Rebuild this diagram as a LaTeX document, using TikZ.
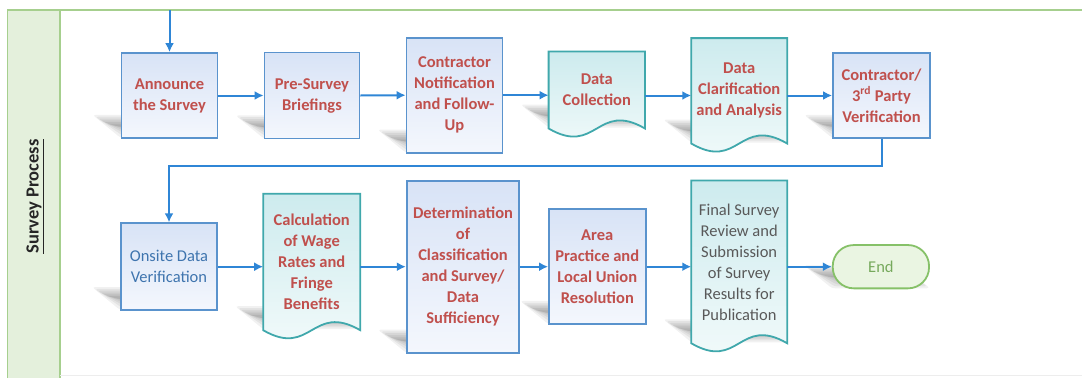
\documentclass[tikz,border=0pt]{standalone}
\usepackage{fontspec}
\setmainfont{Carlito}
\usetikzlibrary{arrows.meta,calc}
\definecolor{lanefill}{HTML}{E4F0DC}
\definecolor{laneline}{HTML}{A6CF8E}
\definecolor{rectborder}{HTML}{5A93CD}
\definecolor{recttop}{HTML}{D8E3F6}
\definecolor{rectbot}{HTML}{F4F7FD}
\definecolor{docborder}{HTML}{40A8AC}
\definecolor{doctop}{HTML}{CDEBEE}
\definecolor{docbot}{HTML}{F4FBFB}
\definecolor{flowblue}{HTML}{2F86D6}
\definecolor{redtext}{HTML}{C0504D}
\definecolor{bluetext}{HTML}{3E74AE}
\definecolor{graytext}{HTML}{595959}
\definecolor{endborder}{HTML}{86C168}
\definecolor{endfill}{HTML}{EAF5E2}
\definecolor{endtext}{HTML}{76A95C}
\pgfdeclarelayer{lanelayer}
\pgfdeclarelayer{shadowlayer}
\pgfdeclarelayer{shapelayer}
\pgfsetlayers{lanelayer,shadowlayer,shapelayer,main}
\newcommand\boxshade[1]{%
  \begin{pgfonlayer}{shadowlayer}
    \foreach \k in {0,...,6}{
    \fill[black, opacity=0.055, rounded corners=3pt]
      ($(#1.south west)+(-28+2.6*\k,-24+1.8*\k)$) -- ($(#1.south east)+(-28-2.6*\k,-24+1.8*\k)$) --
      ($(#1.south east)+(-2.6*\k,-1-1.8*\k)$) -- ($(#1.south west)+(2.6*\k,-1-1.8*\k)$) -- cycle;}
  \end{pgfonlayer}}
\newcommand\docoutline[1]{%
  \begin{pgfonlayer}{shapelayer}
    \draw[docline] (#1.north west) -- (#1.north east) -- (#1.south east)
      .. controls ($(#1.south)+(0,-28)$) and ($(#1.south)+(0,28)$) .. (#1.south west) -- cycle;
  \end{pgfonlayer}}
\begin{document}
\begin{tikzpicture}[x=1pt,y=-1pt,
  txt/.style={font=\fontsize{16.5}{21}\selectfont\bfseries, text=redtext, align=center, inner sep=0pt},
  procbox/.style={txt, draw=rectborder, line width=1.8pt, top color=recttop, bottom color=rectbot},
  docbox/.style={txt},
  docline/.style={draw=docborder, line width=1.8pt, top color=doctop, bottom color=docbot},
  flow/.style={draw=flowblue, line width=2pt, -{Latex[length=9pt,width=9pt]}},
  termbox/.style={draw=endborder, line width=1.8pt, fill=endfill, rounded corners=21pt,
    text=endtext, font=\fontsize{16.5}{21}\selectfont, align=center}]
\useasboundingbox (0,0) rectangle (1082,378);
% lane
\begin{pgfonlayer}{lanelayer}
\fill[white] (0,0) rectangle (1082,378);
\fill[lanefill] (7.6,10) rectangle (60,378);
\draw[laneline, line width=1.2pt] (7.6,378) -- (7.6,10) -- (1082,10);
\draw[laneline, line width=1.2pt] (60,10) -- (60,378);
\draw[black!7, line width=1pt] (60,375) -- (1082,375);
\end{pgfonlayer}
\node[rotate=90, font=\fontsize{18.5}{21}\selectfont\bfseries, text=black!85] (lanelabel) at (35,196.5) {\underline{Survey Process}};
% row 1
\node[procbox, minimum width=96pt, minimum height=85pt] (ann) at (169.5,95.5) {Announce\\the Survey};
\node[procbox, minimum width=95pt, minimum height=86pt] (pre) at (312,95.5) {Pre-Survey\\Briefings};
\node[procbox, minimum width=96pt, minimum height=115pt] (cn) at (454.5,95.2) {Contractor\\Notification\\and Follow-\\Up};
\node[docbox, minimum width=96pt, minimum height=76.6pt] (dc) at (596.8,90) {Data\\Collection};
\node[docbox, minimum width=95.5pt, minimum height=105pt] (dca) at (739.2,90.8) {Data\\Clarification\\and Analysis};
\node[procbox, minimum width=97pt, minimum height=85pt] (c3) at (881.5,95.5) {Contractor/\\3\textsuperscript{rd} Party\\Verification};
% row 2
\node[procbox, minimum width=96pt, minimum height=87pt, text=bluetext, font=\fontsize{16.5}{21}\selectfont] (ods) at (169,266.7) {Onsite Data\\Verification};
\node[docbox, minimum width=96.7pt, minimum height=136pt] (wage) at (311.7,262) {Calculation\\of Wage\\Rates and\\Fringe\\Benefits};
\node[procbox, minimum width=112.6pt, minimum height=172pt] (det) at (463,266.7) {Determination\\of\\Classification\\and Survey/\\Data\\Sufficiency};
\node[procbox, minimum width=96.7pt, minimum height=114.7pt] (area) at (597.3,266.7) {Area\\Practice and\\Local Union\\Resolution};
\node[docbox, minimum width=95.5pt, minimum height=162.3pt, text=graytext, font=\fontsize{16.5}{21}\selectfont] (fsr) at (739.2,261.9) {Final Survey\\Review and\\Submission\\of Survey\\Results for\\Publication};
\node[termbox, minimum width=96.3pt, minimum height=43.3pt] (end) at (880.9,266.7) {End};
% document outlines
\docoutline{dc}
\docoutline{dca}
\docoutline{wage}
\docoutline{fsr}
% shadows
\foreach \n in {ann,pre,cn,dc,dca,c3,ods,wage,det,area,fsr,end} {\boxshade{\n}}
% connectors
\coordinate (start) at (169.5,10);
\draw[flow] (start) -- (ann.north);
\draw[flow] (ann.east) -- (pre.west);
\draw[flow] (pre.east) -- (cn.west);
\draw[flow] (cn.east) -- (cn.east -| dc.west);
\draw[flow] (dc.east |- c3.west) -- (dca.west |- c3.west);
\draw[flow] (dca.east |- c3.west) -- (c3.west);
\draw[flow] (c3.south) -- ++(0,27) -| (ods.north);
\draw[flow] (ods.east) -- (ods.east -| wage.west);
\draw[flow] (wage.east |- det.west) -- (det.west);
\draw[flow] (det.east) -- (area.west);
\draw[flow] (area.east) -- (area.east -| fsr.west);
\draw[flow] (fsr.east |- end.west) -- (end.west);
\end{tikzpicture}
\end{document}
